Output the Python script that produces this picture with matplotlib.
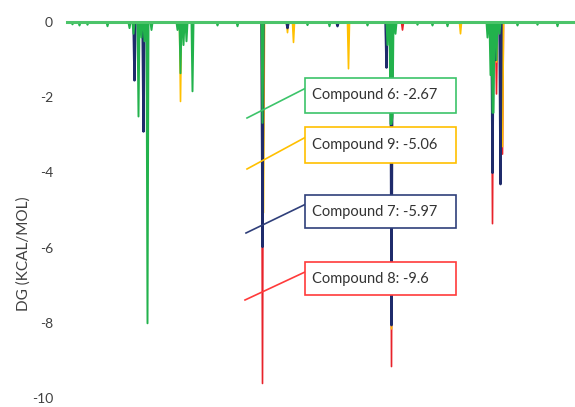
import numpy as np
import matplotlib
matplotlib.use("Agg")
from matplotlib import pyplot as plt
from matplotlib.patches import Rectangle

plt.rcParams['font.family'] = ['Lato', 'DejaVu Sans']

# residue positions (index along the sequence) and dG values of each spike
green_pos = [5, 12, 20, 40, 62, 66, 71, 74, 77, 80, 84, 110, 113, 116, 119, 125,
             150, 170, 195, 240, 262, 300, 320, 323, 324, 325, 328, 350, 365, 380,
             420, 423, 425, 426, 429, 432, 450, 470, 490]
green_val = [-0.05, -0.08, -0.06, -0.1, -0.15, -0.3, -2.5, -0.4, -0.5, -8.0, -0.2,
             -0.2, -1.35, -0.6, -0.5, -1.83, -0.08, -0.1, -2.67, -0.07, -0.1, -0.08,
             -0.6, -2.7, -2.7, -2.5, -0.3, -0.06, -0.08, -0.1,
             -0.4, -1.4, -2.4, -2.4, -1.0, -0.3, -0.08, -0.06, -0.1]

navy_pos = [67, 76, 195, 220, 270, 319, 324, 425, 428, 433]
navy_val = [-1.54, -2.9, -5.97, -0.15, -0.1, -1.2, -8.05, -4.0, -1.0, -4.3]

yellow_pos = [113, 196, 220, 226, 281, 324, 393, 429, 435]
yellow_val = [-2.1, -5.06, -0.27, -0.53, -1.23, -8.15, -0.3, -1.05, -3.3]

red_pos = [195, 324, 335, 425, 429, 435]
red_val = [-9.6, -9.15, -0.2, -5.35, -1.9, -3.5]

compounds = ["Compound 6", "Compound 9", "Compound 7", "Compound 8"]
best_dg = [-2.67, -5.06, -5.97, -9.6]

c_green = '#22b24c'
c_yellow = '#ffc000'
c_navy = '#1f2b6b'
c_red = '#e8222a'

x = np.arange(0, 509)

W, H = 575, 407
fig = plt.figure(figsize=(W / 100, H / 100), dpi=100)
ax = fig.add_axes([67 / W, 1 - 398 / H, (W - 67) / W, (398 - 22) / H])

# back to front: red, yellow, navy, green
for pos, val, c, lw in [(red_pos, red_val, c_red, 1.2), (yellow_pos, yellow_val, c_yellow, 1.2),
                        (navy_pos, navy_val, c_navy, 1.7), (green_pos, green_val, c_green, 1.4)]:
    y = np.zeros(len(x))
    y[pos] = val
    ax.fill_between(x, y, 0, color=c, lw=lw, edgecolor=c, clip_on=False)

ax.plot([x[0], x[-1]], [0, 0], color='#4cc46a', lw=2.2, clip_on=False, zorder=5)

ax.set_xlim(0, 508)
ax.set_ylim(-10, 0)
ax.set_xticks([])
ax.set_yticks([0, -2, -4, -6, -8, -10])
ax.set_yticklabels(['0', '-2', '-4', '-6', '-8', '-10'], fontsize=10, color='#404040')
ax.tick_params(axis='y', length=0, pad=10)
for s in ax.spines.values():
    s.set_visible(False)

fig.text(24 / W, 1 - 254 / H, 'DG (KCAL/MOL)', rotation=90, ha='center', va='center',
         fontsize=11, color='#404040')

# callouts
box_top = [78, 127, 195, 262]
box_h = [35, 36, 33, 33]
edge_cols = ['#3cc46a', '#ffc000', '#2f3f7a', '#ff3b3b']
lead = [((247, 118), (306, 88)), ((247, 169), (306, 137)), ((246, 233), (306, 204)), ((245, 300), (305, 272))]
for name, v, top, h, ec, (p0, p1) in zip(compounds, best_dg, box_top, box_h, edge_cols, lead):
    fig.add_artist(Rectangle((305 / W, 1 - (top + h) / H), 151 / W, h / H, transform=fig.transFigure,
                             facecolor='white', edgecolor=ec, lw=1.2, zorder=10))
    fig.text(312 / W, 1 - (top + h / 2) / H, f"{name}: {v}", ha='left', va='center',
             fontsize=10.5, color='#333333', zorder=11)
    fig.add_artist(plt.Line2D([p0[0] / W, p1[0] / W], [1 - p0[1] / H, 1 - p1[1] / H],
                              transform=fig.transFigure, color=ec, lw=1.2, zorder=9))

fig.savefig('out.png', dpi=100)
